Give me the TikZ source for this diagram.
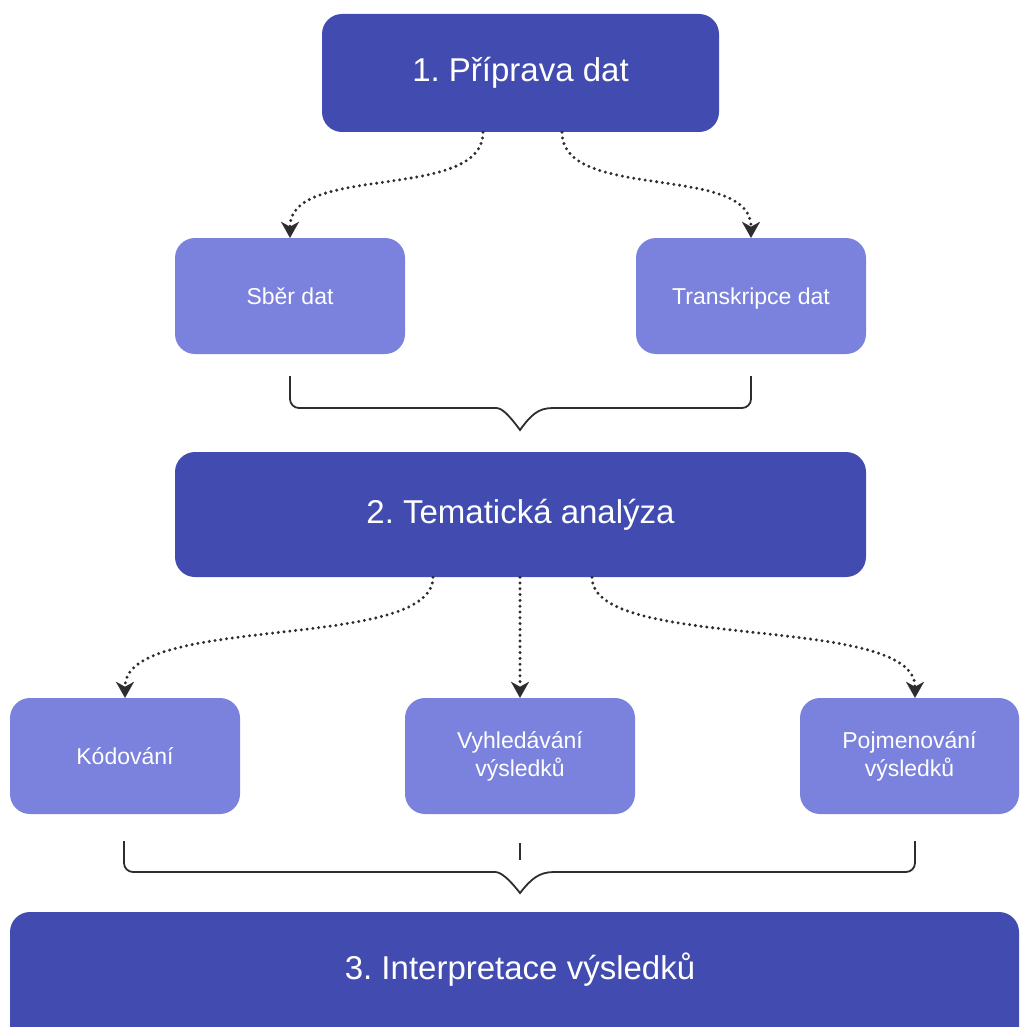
\documentclass[tikz,border=0pt]{standalone}
\usepackage{fontspec}
\setmainfont{Liberation Sans}
\frenchspacing
\usetikzlibrary{arrows.meta}
\definecolor{darkbox}{RGB}{66,76,176}
\definecolor{lightbox}{RGB}{122,130,221}
\definecolor{ink}{RGB}{45,45,45}
\begin{document}
\begin{tikzpicture}[x=1pt,y=-1pt,
  mainbox/.style={fill=darkbox, rounded corners=20pt, text=white, font=\fontsize{33}{40}\selectfont, inner sep=0pt},
  subbox/.style={fill=lightbox, rounded corners=20pt, text=white, font=\fontsize{23}{28}\selectfont, align=center, minimum width=230pt, minimum height=116pt, inner sep=0pt},
  oneline/.style={text height=16.5pt, text depth=0pt},
  dotarrow/.style={draw=ink, line width=3.3pt, line cap=round, dash pattern=on 0pt off 5.8pt, -{Stealth[length=16pt,width=18pt,inset=5pt,line width=0.1pt]}},
  bracket/.style={draw=ink, line width=1.8pt},
]
\useasboundingbox (0,0) rectangle (1019,1027);
\clip (0,0) rectangle (1019,1027);

% boxes
\node[mainbox, minimum width=397pt, minimum height=118pt] (b1) at (520.5,73) {1. Příprava dat};
\node[subbox, oneline] (s1) at (290,296) {Sběr dat};
\node[subbox, oneline] (s2) at (751,296) {Transkripce dat};
\node[mainbox, minimum width=691pt, minimum height=125pt] (b2) at (520.5,514.5) {2. Tematická analýza};
\node[subbox, oneline] (k1) at (125,756) {Kódování};
\node[subbox] (k2) at (520,756) {Vyhledávání\\výsledků};
\node[subbox, minimum width=219pt] (k3) at (909.5,756) {Pojmenování\\výsledků};
\fill[darkbox, rounded corners=20pt] (10,912) rectangle (1019,1060);
\node[text=white, font=\fontsize{33}{40}\selectfont, inner sep=0pt] (b3) at (520,970) {3. Interpretace výsledků};

% dotted arrows
\draw[dotarrow] ([xshift=-37.5pt]b1.south) .. controls +(0,70) and +(0,-75) .. (s1.north);
\draw[dotarrow] ([xshift=41.5pt]b1.south) .. controls +(0,70) and +(0,-75) .. (s2.north);
\draw[dotarrow] ([xshift=-87.5pt]b2.south) .. controls +(0,75) and +(0,-85) .. (k1.north);
\draw[dotarrow] (k2.north |- b2.south) -- (k2.north);
\draw[dotarrow] ([xshift=71.5pt]b2.south) .. controls +(0,75) and +(0,-85) .. ([xshift=5.5pt]k3.north);

% brackets
\draw[bracket] (290,376) [rounded corners=9pt] |- (487,408) [sharp corners]
  .. controls (502,408) and (509,415) .. (520,430)
  .. controls (531,415) and (538,408) .. (553,408) [rounded corners=9pt] -| (751,376);
\draw[bracket] (124,841) [rounded corners=9pt] |- (486,872) [sharp corners]
  .. controls (501,872) and (509,879) .. (520,893)
  .. controls (531,879) and (539,872) .. (554,872) [rounded corners=9pt] -| (915,841);
\draw[ink, line width=1.3pt] (520,843) -- (520,860);
\end{tikzpicture}
\end{document}
